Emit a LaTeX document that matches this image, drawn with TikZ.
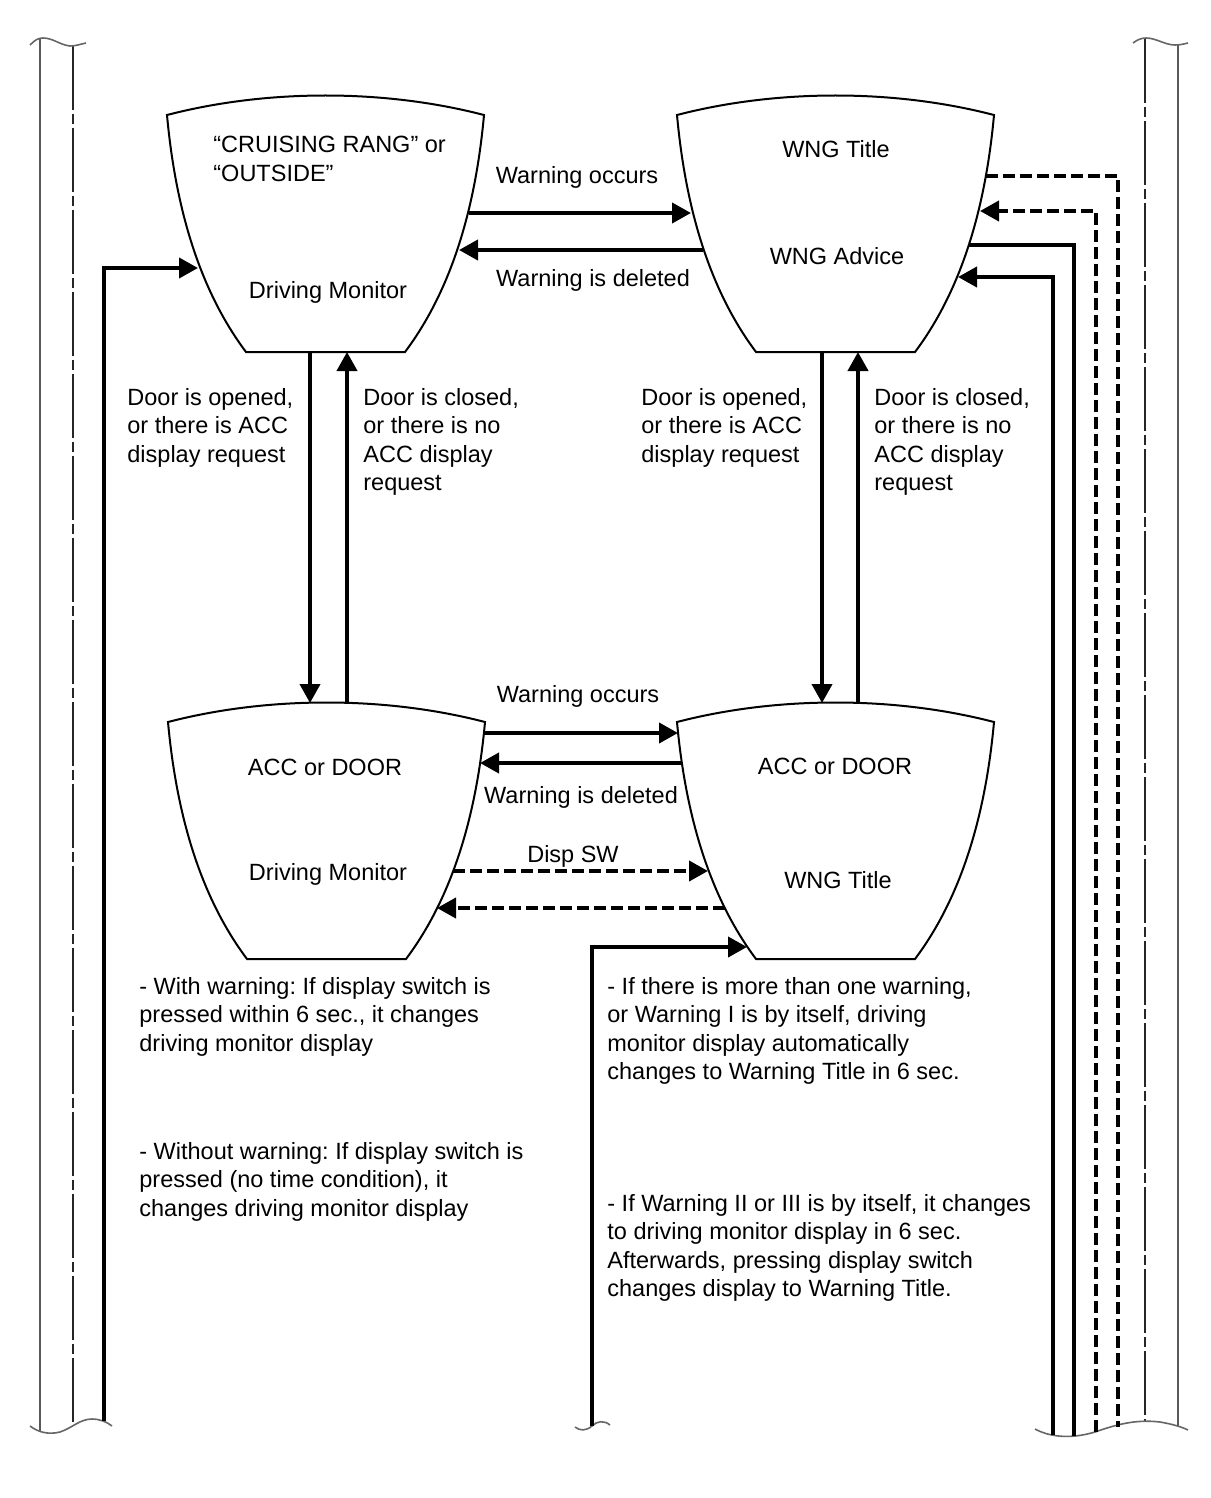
\documentclass[tikz,border=0pt]{standalone}
\usepackage{fontspec}
\setmainfont{Liberation Sans}
\usetikzlibrary{arrows.meta}
\frenchspacing

\begin{document}
\begin{tikzpicture}[
    x=0.5pt, y=-0.5pt,
    every node/.style={font=\fontsize{11.75pt}{14.15pt}\selectfont, inner sep=0pt},
    txt/.style={anchor=base},
    para/.style={anchor=north west, align=left},
    outline/.style={draw=black, line width=1pt},
    flow/.style={line width=2pt, -{Triangle[length=9.5pt,width=10pt]}},
    flowdash/.style={flow, dash pattern=on 6pt off 2.5pt},
    wire/.style={line width=2pt},
    wiredash/.style={wire, dash pattern=on 6pt off 2.5pt},
    rail/.style={line width=1.2pt, draw=black!65},
    railcenter/.style={line width=1.1pt, draw=black!85, dash pattern=on 32pt off 2pt on 5pt off 2pt},
    cut/.style={line width=0.8pt, draw=black!60},
    cup/.pic={
        \draw[outline] (0,0) .. controls (100,-26) and (217,-26) .. (317,0)
            .. controls (307,110) and (277,185) .. (238,237) -- (79,237)
            .. controls (40,185) and (10,110) .. (0,0) -- cycle;
    },
]
    \useasboundingbox (0,0) rectangle (1210,1498);

    % rails with break lines
    \draw[rail] (40,38) -- (40,1432);
    \draw[railcenter] (73,46) -- (73,1423);
    \draw[railcenter] (1145,39) -- (1145,1422);
    \draw[rail] (1178,45) -- (1178,1426);
    \draw[cut] (30,45) .. controls (35,40) and (38,38) .. (43,38) .. controls (53,38) and (60,45) .. (70,46) .. controls (76,46) and (81,44) .. (86,43);
    \draw[cut] (1133,43) .. controls (1137,40) and (1141,38) .. (1146,38) .. controls (1156,38) and (1165,45) .. (1175,45) .. controls (1180,45) and (1184,44) .. (1188,43);
    \draw[cut] (30,1426) .. controls (38,1432) and (48,1435) .. (60,1432) .. controls (72,1428) and (80,1419) .. (92,1419) .. controls (100,1419) and (107,1422) .. (112,1426);
    \draw[cut] (575,1427) .. controls (580,1431) and (586,1431) .. (592,1426) .. controls (597,1421) and (604,1420) .. (610,1425);
    \draw[cut] (1035,1429) .. controls (1048,1436) and (1068,1440) .. (1095,1432) .. controls (1115,1425) and (1135,1419) .. (1160,1422) .. controls (1172,1424) and (1182,1427) .. (1188,1430);

    % states
    \pic (UL) at (167,115) {cup};
    \pic (UR) at (677,115) {cup};
    \pic (LL) at (168,722) {cup};
    \pic (LR) at (677,722) {cup};

    \node[para] (ULmode) at (213,136) {“CRUISING RANG” or\\“OUTSIDE”};
    \node[txt] (ULname) at (328,298) {Driving Monitor};
    \node[txt] (URtitle) at (836,158) {WNG Title};
    \node[txt] (URadvice) at (837,264) {WNG Advice};
    \node[txt] (LLmode) at (325,775) {ACC or DOOR};
    \node[txt] (LLname) at (328,880) {Driving Monitor};
    \node[txt] (LRmode) at (835,774) {ACC or DOOR};
    \node[txt] (LRtitle) at (838,888) {WNG Title};

    % edge points
    \coordinate (ULl) at (198,268);
    \coordinate (ULr1) at (469,213);
    \coordinate (ULr2) at (459,250);
    \coordinate (ULbl) at (310,352);
    \coordinate (ULbr) at (347,352);

    \coordinate (URl1) at (691,213);
    \coordinate (URl2) at (703,250);
    \coordinate (URbl) at (822,352);
    \coordinate (URbr) at (858,352);
    \coordinate (URr1) at (986,176);
    \coordinate (URr2) at (980,211);
    \coordinate (URr3) at (969,245);
    \coordinate (URr4) at (958,277);

    \coordinate (LLtl) at (310,703);
    \coordinate (LLtr) at (347,703);
    \coordinate (LLr1) at (484,733);
    \coordinate (LLr2) at (480,763);
    \coordinate (LLr3) at (453,871);
    \coordinate (LLr4) at (437,908);

    \coordinate (LRtl) at (822,703);
    \coordinate (LRtr) at (858,703);
    \coordinate (LRl1) at (678,733);
    \coordinate (LRl2) at (682,763);
    \coordinate (LRl3) at (708,871);
    \coordinate (LRl4) at (725,908);
    \coordinate (LRl5) at (747,947);

    \coordinate (inL) at (104,1421);
    \coordinate (inM) at (592,1426);
    \coordinate (inR1) at (1053,1435);
    \coordinate (outR1) at (1074,1436);
    \coordinate (inR2) at (1096,1432);
    \coordinate (outR2) at (1118,1427);

    % transitions
    \draw[flow] (ULr1) -- (URl1);
    \draw[flow] (URl2) -- (ULr2);
    \node[txt] (occ1) at (577,184) {Warning occurs};
    \node[txt] (del1) at (593,286) {Warning is deleted};

    \draw[flow] (ULbl) -- (LLtl);
    \draw[flow] (LLtr) -- (ULbr);
    \draw[flow] (URbl) -- (LRtl);
    \draw[flow] (LRtr) -- (URbr);
    \node[para] (ULdown) at (127,388) {Door is opened,\\or there is ACC\\display request};
    \node[para] (ULup) at (363,388) {Door is closed,\\or there is no\\ACC display\\request};
    \node[para] (URdown) at (641,388) {Door is opened,\\or there is ACC\\display request};
    \node[para] (URup) at (874,388) {Door is closed,\\or there is no\\ACC display\\request};

    \draw[flow] (LLr1) -- (LRl1);
    \draw[flow] (LRl2) -- (LLr2);
    \node[txt] (occ2) at (578,702) {Warning occurs};
    \node[txt] (del2) at (581,803) {Warning is deleted};

    \draw[flowdash] (LLr3) -- (LRl3);
    \draw[flowdash] (LRl4) -- (LLr4);
    \node[txt] (disp) at (573,862) {Disp SW};

    % lines from outside the page
    \draw[flow] (inL) |- (ULl);
    \draw[flow] (inM) |- (LRl5);
    \draw[flow] (inR1) |- (URr4);
    \draw[wire] (URr3) -| (outR1);
    \draw[flowdash] (inR2) |- (URr2);
    \draw[wiredash] (URr1) -| (outR2);

    % notes
    \node[para] (noteA) at (139,977) {- With warning: If display switch is\\pressed within 6 sec., it changes\\driving monitor display};
    \node[para] (noteB) at (139,1142) {- Without warning: If display switch is\\pressed (no time condition), it\\changes driving monitor display};
    \node[para] (noteC) at (607,977) {- If there is more than one warning,\\or Warning I is by itself, driving\\monitor display automatically\\changes to Warning Title in 6 sec.};
    \node[para] (noteD) at (607,1194) {- If Warning II or III is by itself, it changes\\to driving monitor display in 6 sec.\\Afterwards, pressing display switch\\changes display to Warning Title.};
\end{tikzpicture}
\end{document}
